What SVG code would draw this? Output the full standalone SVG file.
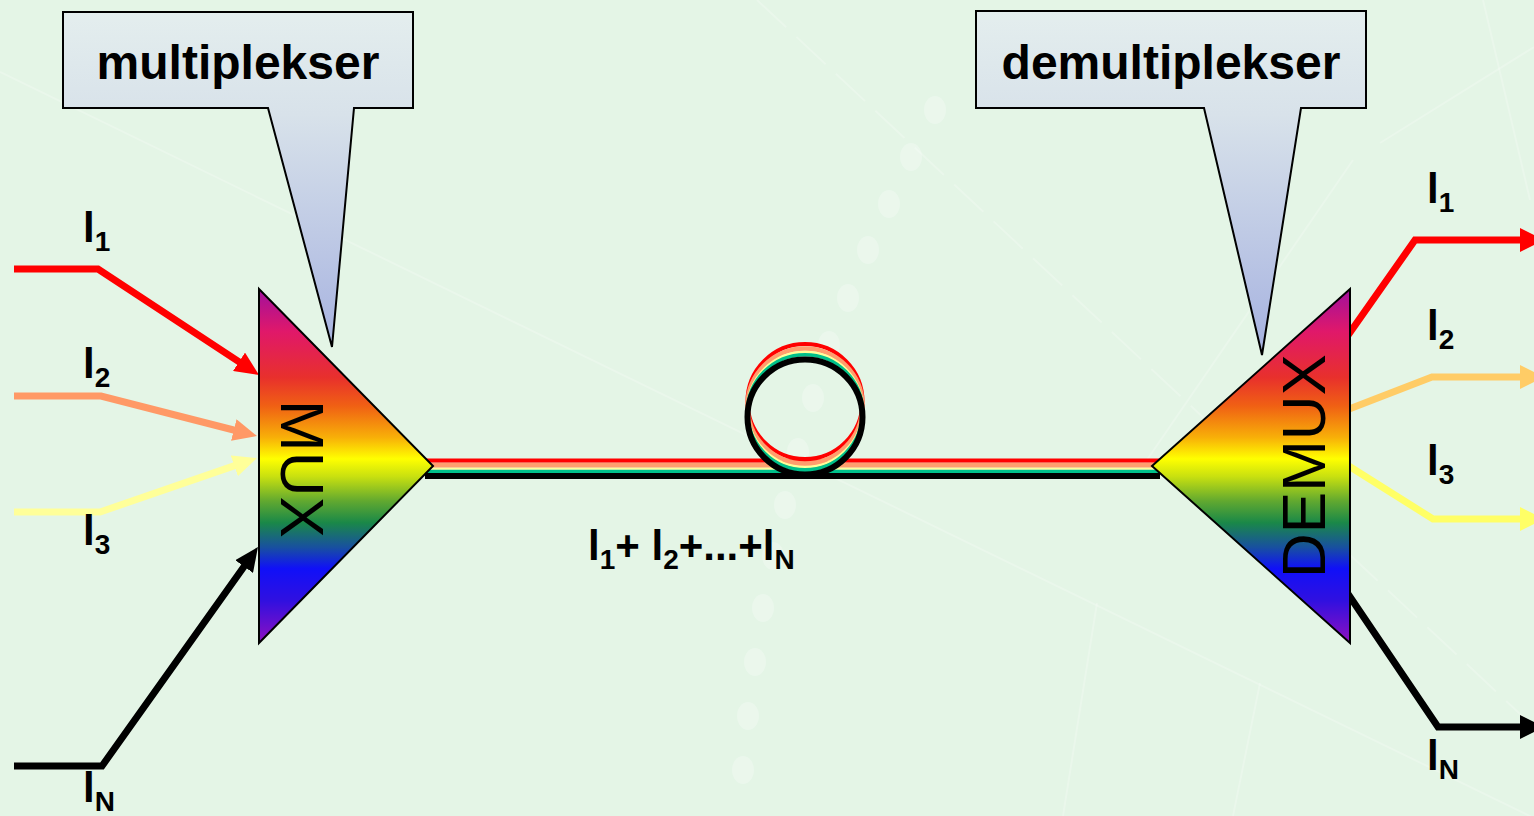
<svg xmlns="http://www.w3.org/2000/svg" width="1534" height="816" viewBox="0 0 1534 816">
<style>
.lbl{font-family:"Liberation Sans",Arial,sans-serif;font-weight:bold;font-size:42px;fill:#000}
.sub{font-size:28px}
.call{font-family:"Liberation Sans",Arial,sans-serif;font-weight:bold;font-size:48px;fill:#000}
.dev{font-family:"Liberation Sans",Arial,sans-serif;font-size:62px;fill:#000}
.tri{stroke:#000;stroke-width:2;stroke-linejoin:miter}
.callout{fill:url(#calloutGrad);stroke:#000;stroke-width:2}
.wire{fill:none;stroke-width:7;stroke-linejoin:miter}
.deco{fill:none;stroke:#ffffff;stroke-opacity:0.22;stroke-width:2}
.dot{fill:#ffffff;fill-opacity:0.25}
</style>
<defs>
<linearGradient id="rainbow" gradientUnits="userSpaceOnUse" x1="0" y1="289" x2="0" y2="643">
<stop offset="0" stop-color="#a0109e"/>
<stop offset="0.12" stop-color="#e0186a"/>
<stop offset="0.25" stop-color="#e8302c"/>
<stop offset="0.33" stop-color="#f06014"/>
<stop offset="0.42" stop-color="#f8b008"/>
<stop offset="0.48" stop-color="#ffff00"/>
<stop offset="0.53" stop-color="#c8e010"/>
<stop offset="0.6" stop-color="#60a830"/>
<stop offset="0.66" stop-color="#1a8848"/>
<stop offset="0.73" stop-color="#1850a0"/>
<stop offset="0.79" stop-color="#1010f8"/>
<stop offset="0.88" stop-color="#3010e0"/>
<stop offset="1" stop-color="#9010c0"/>
</linearGradient>
<linearGradient id="calloutGrad" gradientUnits="userSpaceOnUse" x1="0" y1="12" x2="0" y2="352">
<stop offset="0" stop-color="#e4eeee"/>
<stop offset="0.3" stop-color="#d8e2ea"/>
<stop offset="1" stop-color="#a6b2e0"/>
</linearGradient>
<marker id="ah-red" markerUnits="userSpaceOnUse" markerWidth="24" markerHeight="22" viewBox="0 0 24 22" refX="12" refY="11" orient="auto"><path d="M0,0 L24,11 L0,22 z" fill="#ff0000"/></marker>
<marker id="ah-salmon" markerUnits="userSpaceOnUse" markerWidth="24" markerHeight="22" viewBox="0 0 24 22" refX="12" refY="11" orient="auto"><path d="M0,0 L24,11 L0,22 z" fill="#ff9966"/></marker>
<marker id="ah-pale" markerUnits="userSpaceOnUse" markerWidth="24" markerHeight="22" viewBox="0 0 24 22" refX="12" refY="11" orient="auto"><path d="M0,0 L24,11 L0,22 z" fill="#ffff99"/></marker>
<marker id="ah-black" markerUnits="userSpaceOnUse" markerWidth="24" markerHeight="22" viewBox="0 0 24 22" refX="12" refY="11" orient="auto"><path d="M0,0 L24,11 L0,22 z" fill="#000000"/></marker>
<marker id="ah-red-o" markerUnits="userSpaceOnUse" markerWidth="24" markerHeight="24" viewBox="0 0 24 24" refX="12" refY="12" orient="auto"><path d="M0,0 L24,12 L0,24 z" fill="#ff0000"/></marker>
<marker id="ah-orange-o" markerUnits="userSpaceOnUse" markerWidth="24" markerHeight="24" viewBox="0 0 24 24" refX="12" refY="12" orient="auto"><path d="M0,0 L24,12 L0,24 z" fill="#ffcc66"/></marker>
<marker id="ah-yellow-o" markerUnits="userSpaceOnUse" markerWidth="24" markerHeight="24" viewBox="0 0 24 24" refX="12" refY="12" orient="auto"><path d="M0,0 L24,12 L0,24 z" fill="#ffff66"/></marker>
<marker id="ah-black-o" markerUnits="userSpaceOnUse" markerWidth="24" markerHeight="24" viewBox="0 0 24 24" refX="12" refY="12" orient="auto"><path d="M0,0 L24,12 L0,24 z" fill="#000000"/></marker>
</defs>

<rect x="0" y="0" width="1534" height="816" fill="#e4f5e6"/>

<g id="background-decor">
<line class="deco" x1="0" y1="72" x2="1534" y2="818"/>
<line class="deco" x1="757" y1="0" x2="1534" y2="727" stroke-dasharray="40 14" stroke-width="4"/>
<line class="deco" x1="1380" y1="143" x2="1534" y2="47"/>
<line class="deco" x1="1483" y1="0" x2="1530" y2="200"/>
<line class="deco" x1="1140" y1="470" x2="1353" y2="160"/>
<line class="deco" x1="1063" y1="816" x2="1097" y2="603"/>
<line class="deco" x1="1233" y1="816" x2="1260" y2="683"/>
<ellipse class="dot" cx="935" cy="110" rx="11" ry="14"/>
<ellipse class="dot" cx="911" cy="157" rx="11" ry="14"/>
<ellipse class="dot" cx="889" cy="204" rx="11" ry="14"/>
<ellipse class="dot" cx="868" cy="250" rx="11" ry="14"/>
<ellipse class="dot" cx="848" cy="298" rx="11" ry="14"/>
<ellipse class="dot" cx="829" cy="345" rx="11" ry="14"/>
<ellipse class="dot" cx="813" cy="398" rx="11" ry="14"/>
<ellipse class="dot" cx="798" cy="452" rx="11" ry="14"/>
<ellipse class="dot" cx="785" cy="505" rx="11" ry="14"/>
<ellipse class="dot" cx="773" cy="556" rx="11" ry="14"/>
<ellipse class="dot" cx="763" cy="608" rx="11" ry="14"/>
<ellipse class="dot" cx="755" cy="662" rx="11" ry="14"/>
<ellipse class="dot" cx="748" cy="716" rx="11" ry="14"/>
<ellipse class="dot" cx="743" cy="770" rx="11" ry="14"/>
</g>

<g id="connectors">
<polyline class="wire" stroke="#ff0000" points="14,269 98,269 249,368.4" marker-end="url(#ah-red)"/>
<polyline class="wire" stroke="#ff9966" points="14,396 101,396 245.4,433" marker-end="url(#ah-salmon)"/>
<polyline class="wire" stroke="#ffff99" points="14,512 100,512 245.6,461.9" marker-end="url(#ah-pale)"/>
<polyline class="wire" stroke="#000000" points="14,766 102,766 251,556.8" marker-end="url(#ah-black)"/>

<g id="fiber">
<line x1="425" y1="476" x2="1160" y2="476" stroke="#000000" stroke-width="6"/>
<line x1="425" y1="471.25" x2="1160" y2="471.25" stroke="#00c08a" stroke-width="3.5"/>
<line x1="425" y1="468.5" x2="1160" y2="468.5" stroke="#ffff99" stroke-width="2"/>
<line x1="425" y1="465" x2="1160" y2="465" stroke="#ff9e6e" stroke-width="5"/>
<line x1="425" y1="460.5" x2="1160" y2="460.5" stroke="#ff0000" stroke-width="4"/>
<circle cx="805" cy="401.5" r="57.5" fill="none" stroke="#ff0000" stroke-width="4"/>
<circle cx="805" cy="406" r="57.5" fill="none" stroke="#ff9e6e" stroke-width="4.5"/>
<circle cx="805" cy="409.5" r="57.5" fill="none" stroke="#ffff99" stroke-width="2.5"/>
<circle cx="805" cy="412.25" r="57.5" fill="none" stroke="#00c08a" stroke-width="3.5"/>
<circle cx="805" cy="417" r="57.5" fill="none" stroke="#000000" stroke-width="6"/>
</g>

<polyline class="wire" stroke="#ff0000" points="1344,341 1415,240 1532,240" marker-end="url(#ah-red-o)"/>
<polyline class="wire" stroke="#ffcc66" points="1344,411 1432,377 1532,377" marker-end="url(#ah-orange-o)"/>
<polyline class="wire" stroke="#ffff66" points="1344,463 1433,519 1532,519" marker-end="url(#ah-yellow-o)"/>
<polyline class="wire" stroke="#000000" points="1344,588 1438,727 1532,727" marker-end="url(#ah-black-o)"/>
</g>

<g id="mux">
<polygon class="tri" fill="url(#rainbow)" points="259,289 433,466 259,643"/>
<text class="dev" transform="translate(281,469) rotate(90)" text-anchor="middle">MUX</text>
</g>

<g id="demux">
<polygon class="tri" fill="url(#rainbow)" points="1350,289 1152,466 1350,643"/>
<text class="dev" transform="translate(1325,466) rotate(-90)" text-anchor="middle">DEMUX</text>
</g>

<g id="callout-multiplekser">
<path class="callout" d="M63,12 H413 V108 H354 L332,347 L268,108 H63 Z"/>
<text class="call" x="238" y="79" text-anchor="middle">multiplekser</text>
</g>

<g id="callout-demultiplekser">
<path class="callout" d="M976,11 H1366 V108 H1301 L1262,355 L1204,108 H976 Z"/>
<text class="call" x="1171" y="79" text-anchor="middle">demultiplekser</text>
</g>

<g id="labels">
<text class="lbl" x="83" y="242">l<tspan class="sub" dy="9">1</tspan></text>
<text class="lbl" x="83" y="378">l<tspan class="sub" dy="9">2</tspan></text>
<text class="lbl" x="83" y="545">l<tspan class="sub" dy="9">3</tspan></text>
<text class="lbl" x="83" y="802">l<tspan class="sub" dy="9">N</tspan></text>
<text class="lbl" x="1427" y="203">l<tspan class="sub" dy="9">1</tspan></text>
<text class="lbl" x="1427" y="340">l<tspan class="sub" dy="9">2</tspan></text>
<text class="lbl" x="1427" y="475">l<tspan class="sub" dy="9">3</tspan></text>
<text class="lbl" x="1427" y="770">l<tspan class="sub" dy="9">N</tspan></text>
<text class="lbl" x="588" y="560">l<tspan class="sub" dy="9">1</tspan><tspan dy="-9">+ l</tspan><tspan class="sub" dy="9">2</tspan><tspan dy="-9">+...+l</tspan><tspan class="sub" dy="9">N</tspan></text>
</g>
</svg>
